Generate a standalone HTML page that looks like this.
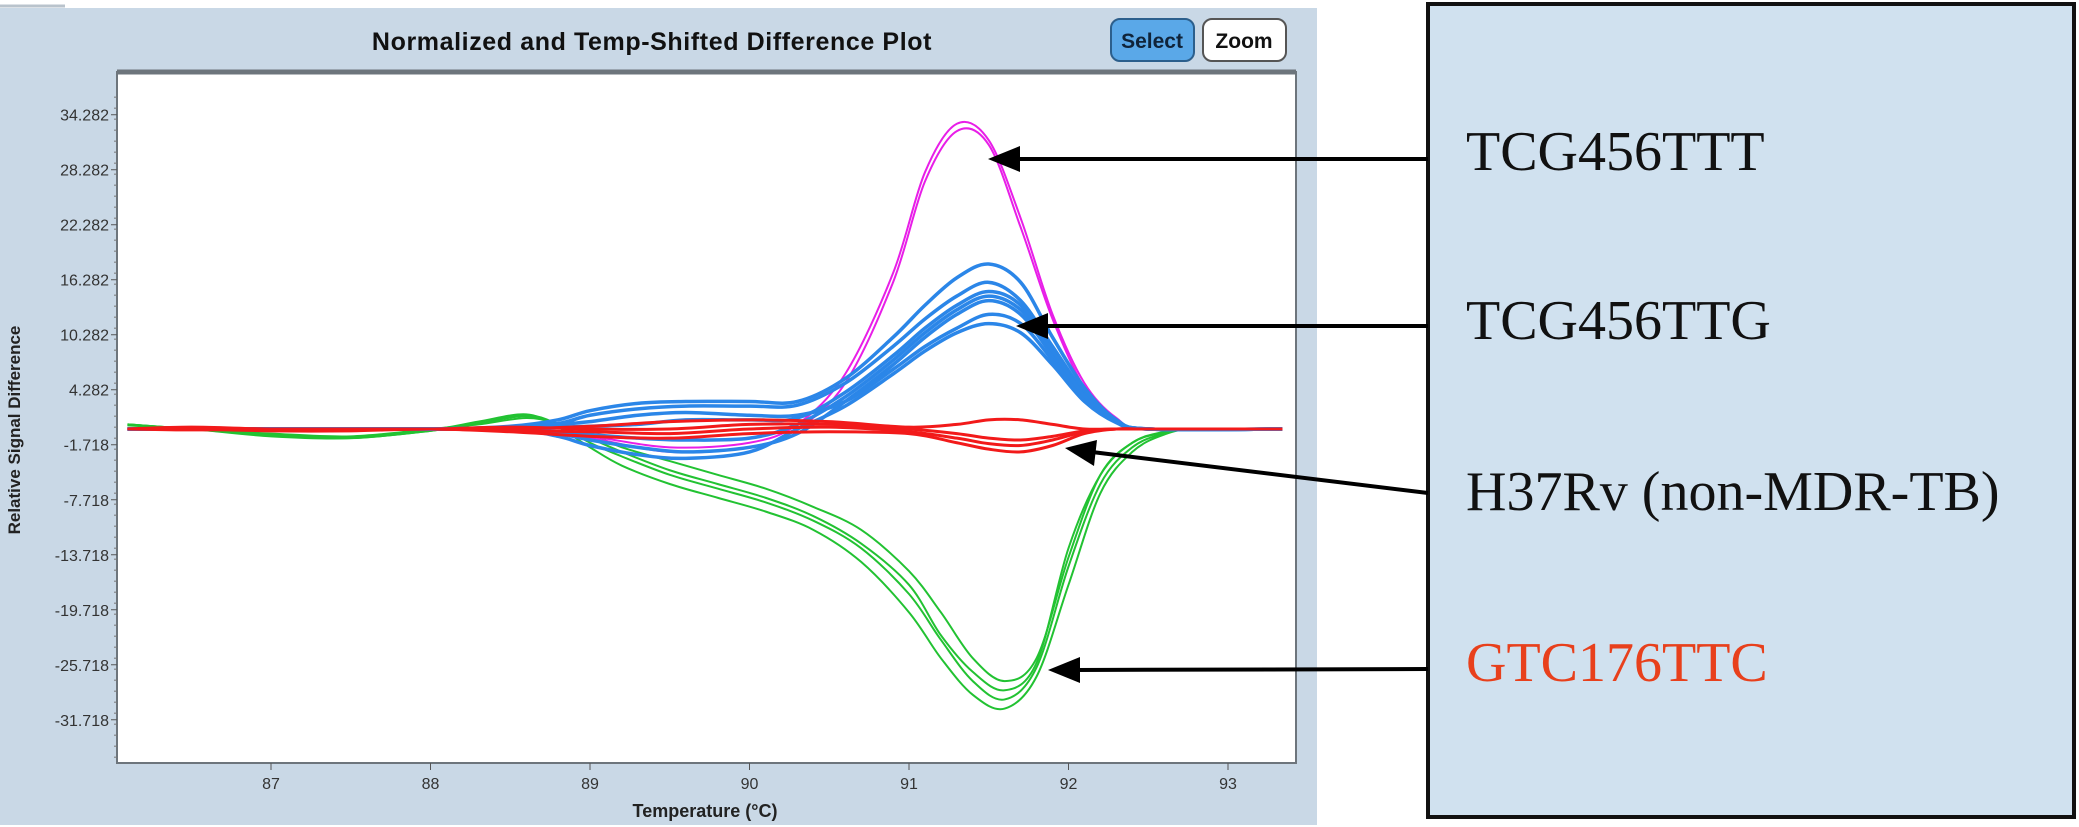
<!DOCTYPE html>
<html><head><meta charset="utf-8"><style>
html,body{margin:0;padding:0;background:#fff;}
svg{display:block;}
</style></head><body>
<svg id="root" width="2079" height="827" viewBox="0 0 2079 827" xmlns="http://www.w3.org/2000/svg">
<rect x="0" y="8" width="1317" height="817" fill="#c9d8e6"/>
<line x1="0" y1="6" x2="65" y2="6" stroke="#b9c3cc" stroke-width="3"/>
<text x="652" y="50" text-anchor="middle" font-family="Liberation Sans, sans-serif" font-weight="bold" font-size="25" letter-spacing="0.6" fill="#111">Normalized and Temp-Shifted Difference Plot</text>
<g><rect x="1111" y="19" width="83" height="42" rx="9" fill="#5aa8e8" stroke="#2c5f8c" stroke-width="2"/><text x="1152" y="48" text-anchor="middle" font-family="Liberation Sans, sans-serif" font-weight="bold" font-size="21" fill="#10243a">Select</text></g>
<g><rect x="1203" y="19" width="83" height="42" rx="9" fill="#fff" stroke="#555" stroke-width="2"/><text x="1244" y="48" text-anchor="middle" font-family="Liberation Sans, sans-serif" font-weight="bold" font-size="21" fill="#111">Zoom</text></g>
<rect x="117" y="72" width="1179" height="691" fill="#fff" stroke="#6d757c" stroke-width="2"/>
<line x1="117" y1="72" x2="1296" y2="72" stroke="#6d757c" stroke-width="5"/>
<g id="axes"></g>
<defs><clipPath id="clip"><rect x="118" y="73" width="1177" height="689"/></clipPath></defs>
<g id="series" clip-path="url(#clip)"></g>
<text transform="translate(20,430) rotate(-90)" text-anchor="middle" font-family="Liberation Sans, sans-serif" font-weight="bold" font-size="17" fill="#222">Relative Signal Difference</text>
<text x="705" y="817" text-anchor="middle" font-family="Liberation Sans, sans-serif" font-weight="bold" font-size="18" fill="#222">Temperature (°C)</text>
<rect x="1428" y="4" width="646" height="813" fill="#d0e1ef" stroke="#111" stroke-width="4"/>
<g font-family="Liberation Serif, serif" font-size="56">
<text x="1466" y="170" fill="#111">TCG456TTT</text>
<text x="1466" y="339" fill="#111">TCG456TTG</text>
<text x="1466" y="510" fill="#111">H37Rv (non-MDR-TB)</text>
<text x="1466" y="681" fill="#e8401c">GTC176TTC</text>
</g>
<g stroke="#000" stroke-width="4" fill="none">
<line x1="1428" y1="159" x2="1015" y2="159"/>
<line x1="1428" y1="326" x2="1043" y2="326"/>
<line x1="1428" y1="493" x2="1092" y2="452"/>
<line x1="1428" y1="669" x2="1075" y2="670"/>
</g>
<g fill="#000">
<path d="M988,159 L1020,146 L1020,172 Z"/>
<path d="M1016,326 L1048,313 L1048,339 Z"/>
<path d="M1065,448 L1097,440 L1094,466 Z"/>
<path d="M1048,670 L1080,657 L1080,683 Z"/>
</g>
</svg>
<script>
const yTicks=[34.282,28.282,22.282,16.282,10.282,4.282,-1.718,-7.718,-13.718,-19.718,-25.718,-31.718];
const xTicks=[87,88,89,90,91,92,93];
const greenT=[86.1,86.5,87,87.5,88,88.3,88.6,88.8,89,89.2,89.5,89.8,90.1,90.4,90.7,91,91.2,91.4,91.6,91.8,92,92.2,92.4,92.6,92.8,93.34];
const green1=[0.5,0,-0.8,-1,-0.2,0.6,1.5,0.5,-1.5,-3,-5,-6.5,-8,-10,-13,-18,-23,-27.5,-29.5,-26,-15,-6,-2,-0.5,0,0];
const green2=[0.5,0,-0.6,-0.9,-0.1,0.8,1.6,0.2,-2,-4,-6,-7.5,-9,-11,-14.5,-20,-25,-29,-30.5,-27,-17,-7,-2.5,-0.6,0,0];
const green3=[0.4,0,-0.5,-0.8,0,0.5,1.2,0.6,-0.5,-2,-3.5,-5,-6.5,-8.5,-11,-15.5,-20,-25,-27.5,-25,-14,-5,-1.5,-0.3,0,0];
const green4=[0.5,0,-0.7,-1,-0.2,0.6,1.4,0.4,-1,-2.5,-4.5,-6,-7.5,-9.5,-12.5,-17,-22.5,-26.5,-28.5,-25.5,-13,-5,-1.5,-0.4,0,0];
const magT=[86.1,87,88,88.5,89,89.5,90,90.3,90.6,90.9,91.1,91.3,91.5,91.7,91.9,92.1,92.3,92.5,93.34];
const mag1=[0,0,0,0,-1,-2.5,-2,0,5,16,27,32.5,31,22,12,4.5,1,0,0];
const mag2=[0,0,0,0,-0.8,-2,-1.5,0.5,6,17,28,33.3,31.5,23,12.5,5,1.2,0,0];
const blueT=[86.1,87,88,88.5,88.8,89,89.3,89.6,90,90.3,90.6,90.9,91.1,91.3,91.5,91.7,91.9,92.1,92.3,92.5,93.34];
const blue1=[0,0,0,0.3,1,2,2.8,3,3,3,5.5,10,13.5,16.5,18,16,10,4.5,1,0,0];
const blue2=[0,0,0,0.2,0.6,1.5,2.2,2.5,2.5,2.6,5,9,12,14.5,16,14,9,4,1,0,0];
const blue3=[0,0,0,0,-0.5,-1.2,-2,-2.5,-2,-0.5,3,7,10,12.5,14,12.5,8,3.5,0.8,0,0];
const blue4=[0,0,0,0,-0.8,-1.8,-2.8,-3.2,-2.5,0,2.5,6,8.5,10.5,11.5,10.5,7,3,0.7,0,0];
const blue5=[0,0,0,0.2,0.5,0.8,1.5,1.8,1.5,1.5,3,6.5,9,11,12.5,11.5,7.5,3.2,0.7,0,0];
const blue6=[0,0,0,0.1,0.2,0.3,0.5,1,1,1.2,4,8,11,13.5,15,13.5,8.5,3.8,0.9,0,0];
const blue7=[0,0,0,0,-0.3,-0.6,-1,-1.2,-1,0.5,3.5,7.5,10.5,13,14.5,13,8.5,3.6,0.8,0,0];
const redT=[86.1,86.5,87,87.5,88,88.5,89,89.5,90,90.5,91,91.3,91.5,91.7,91.9,92.1,92.3,92.5,93.34];
const red1=[0,0.2,0,0,0,0,0.3,0.8,1,0.8,0.2,0.5,1,1,0.5,0,0,0,0];
const red2=[0,0,-0.2,-0.2,0,-0.3,-0.8,-1,-0.5,-0.3,-0.5,-1.5,-2.2,-2.5,-1.8,-0.5,0,0,0];
const red3=[0,0,0,0,0,0.2,0,0,0.5,0.5,0,-0.5,-1,-1.2,-0.8,-0.2,0,0,0];
const red4=[0,-0.1,0,-0.1,0,-0.2,-0.3,-0.5,0,0.2,-0.3,-1,-1.6,-1.8,-1.2,-0.3,0,0,0];

const NS='http://www.w3.org/2000/svg';
function xs(t){return 271+(t-87)*159.5;}
function ys(v){return 429-v*9.167;}
const axes=document.getElementById('axes');
yTicks.forEach(v=>{
  const y=ys(v);
  const l=document.createElementNS(NS,'line');
  l.setAttribute('x1',111);l.setAttribute('x2',117);l.setAttribute('y1',y);l.setAttribute('y2',y);
  l.setAttribute('stroke','#555');
  
  
  axes.appendChild(l);
  const t=document.createElementNS(NS,'text');
  t.setAttribute('x',109);t.setAttribute('y',y+6);t.setAttribute('text-anchor','end');
  t.setAttribute('font-family','Liberation Sans, sans-serif');t.setAttribute('font-size','16');t.setAttribute('fill','#333');
  t.textContent=v.toFixed(3);
  
  
  axes.appendChild(t);
});
for(let v=-37;v<=37;v+=1.2){
  const l=document.createElementNS(NS,'line');const y=ys(v);
  if(y<74||y>761)continue;
  l.setAttribute('x1',114);l.setAttribute('x2',117);l.setAttribute('y1',y);l.setAttribute('y2',y);l.setAttribute('stroke','#777');
  
  
  axes.appendChild(l);
}
xTicks.forEach(v=>{
  const x=xs(v);
  const l=document.createElementNS(NS,'line');
  l.setAttribute('x1',x);l.setAttribute('x2',x);l.setAttribute('y1',763);l.setAttribute('y2',770);l.setAttribute('stroke','#555');
  
  
  axes.appendChild(l);
  const t=document.createElementNS(NS,'text');
  t.setAttribute('x',x);t.setAttribute('y',789);t.setAttribute('text-anchor','middle');
  t.setAttribute('font-family','Liberation Sans, sans-serif');t.setAttribute('font-size','16');t.setAttribute('fill','#333');
  t.textContent=v;
  
  
  axes.appendChild(t);
});
function pathD(T,V){
  const p=T.map((t,i)=>[xs(t),ys(V[i])]);
  let d='M'+p[0][0]+','+p[0][1];
  for(let i=0;i<p.length-1;i++){
    const p0=p[Math.max(0,i-1)],p1=p[i],p2=p[i+1],p3=p[Math.min(p.length-1,i+2)];
    const c1=[p1[0]+(p2[0]-p0[0])/6,p1[1]+(p2[1]-p0[1])/6];
    const c2=[p2[0]-(p3[0]-p1[0])/6,p2[1]-(p3[1]-p1[1])/6];
    d+=' C'+c1+' '+c2+' '+p2;
  }
  return d;
}
const g=document.getElementById('series');
function draw(T,V,color,w,name){
  const p=document.createElementNS(NS,'path');
  p.setAttribute('d',pathD(T,V));p.setAttribute('fill','none');p.setAttribute('stroke',color);p.setAttribute('stroke-width',w);
  
  
  g.appendChild(p);
}
[green1,green2,green3,green4].forEach(s=>draw(greenT,s,'#22c232',2,'curve-gtc176ttc'));
[mag1,mag2].forEach(s=>draw(magT,s,'#e81ee8',2,'curve-tcg456ttt'));
[blue1,blue2,blue3,blue4,blue5,blue6,blue7].forEach(s=>draw(blueT,s,'#2b86e8',3.5,'curve-tcg456ttg'));
[red1,red2,red3,red4].forEach(s=>draw(redT,s,'#f21a1a',3,'curve-h37rv'));
</script>
</body></html>
